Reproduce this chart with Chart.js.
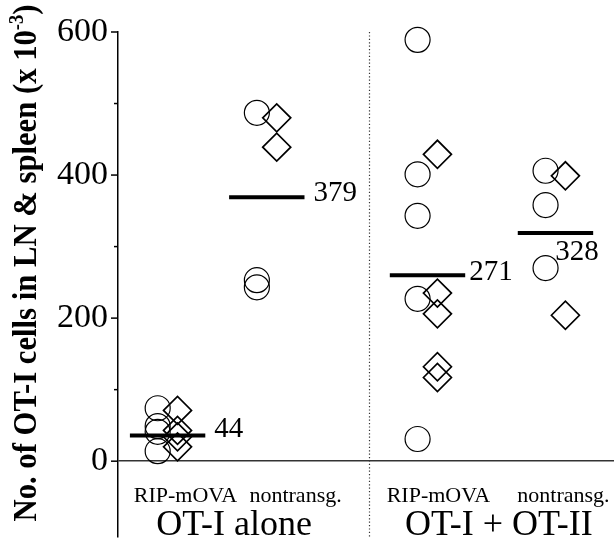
<!DOCTYPE html>
<html>
<head>
<meta charset="utf-8">
<script src="https://cdn.jsdelivr.net/npm/chart.js@4/dist/chart.umd.min.js"></script>
<style>
  html, body { margin: 0; padding: 0; background: #fff; }
  #wrap { width: 614px; height: 543px; position: relative; }
</style>
</head>
<body>
<div id="wrap"><canvas id="c"></canvas></div>
<script>
// ---- data ----
const groupNames = ['OT-I alone', 'OT-I + OT-II'];
const subgroupNames = ['RIP-mOVA', 'nontransg.', 'RIP-mOVA', 'nontransg.'];
const circleValues0 = [74, 49, 41, 14];            // OT-I alone, RIP-mOVA
const diamondValues0 = [71, 43, 34, 20];
const circleValues1 = [487, 253, 243];             // OT-I alone, nontransg.
const diamondValues1 = [480, 439];
const circleValues2 = [589, 401, 343, 227, 31];    // OT-I + OT-II, RIP-mOVA
const diamondValues2 = [429, 235, 206, 132, 117];
const circleValues3 = [406, 358, 270];             // OT-I + OT-II, nontransg.
const diamondValues3 = [399, 204];
const meanLabels = ['44', '379', '271', '328'];
const meanLineValues = [36, 369, 260, 319];
const yTickValues = [0, 100, 200, 300, 400, 500, 600];
const yLabelValues = [0, 200, 400, 600];

// ---- layout (x positions in axis units) ----
const groupX = [0.5, 1.5, 3.12, 4.41];
const circleOffset = -0.1, diamondOffset = 0.1, meanHalf = 0.38;
const separatorX = 2.53;
const subLabelX = [0.68, 1.79, 3.23, 4.49];
const groupLabelX = [1.17, 3.84];
const meanLabelOffsets = [[9, -6], [9, -4], [4, -3], [-38, 19]];

const circleSets = [circleValues0, circleValues1, circleValues2, circleValues3];
const diamondSets = [diamondValues0, diamondValues1, diamondValues2, diamondValues3];

const datasets = [];
circleSets.forEach((vals, i) => {
  datasets.push({
    data: vals.map(v => ({ x: groupX[i] + circleOffset, y: v })),
    pointStyle: 'circle', pointRadius: 12.5, borderColor: '#000',
    backgroundColor: 'rgba(0,0,0,0)', borderWidth: 1.2, showLine: false, clip: false
  });
});
diamondSets.forEach((vals, i) => {
  datasets.push({
    data: vals.map(v => ({ x: groupX[i] + diamondOffset, y: v })),
    pointStyle: 'rectRot', pointRadius: 14, borderColor: '#000',
    backgroundColor: 'rgba(0,0,0,0)', borderWidth: 1.7, showLine: false, clip: false
  });
});
meanLineValues.forEach((v, i) => {
  datasets.push({
    data: [{ x: groupX[i] - meanHalf, y: v }, { x: groupX[i] + meanHalf, y: v }],
    showLine: true, pointRadius: 0, borderColor: '#000', borderWidth: 4, clip: false
  });
});

const overlay = {
  id: 'overlay',
  beforeDatasetsDraw(chart) {
    const { ctx, scales: { x }, chartArea } = chart;
    ctx.save();
    ctx.strokeStyle = '#333';
    ctx.lineWidth = 1.2;
    ctx.setLineDash([1.2, 2.2]);
    const sx = Math.round(x.getPixelForValue(separatorX)) + 0.5;
    ctx.beginPath();
    ctx.moveTo(sx, chartArea.top);
    ctx.lineTo(sx, chartArea.bottom);
    ctx.stroke();
    ctx.restore();
  },
  afterDraw(chart) {
    const { ctx, scales: { x, y }, chartArea } = chart;
    ctx.save();
    ctx.strokeStyle = '#000';
    ctx.lineWidth = 1.5;
    yTickValues.forEach(v => {
      const py = y.getPixelForValue(v);
      const len = yLabelValues.includes(v) ? 7 : 4;
      ctx.beginPath();
      ctx.moveTo(chartArea.left - len, py);
      ctx.lineTo(chartArea.left, py);
      ctx.stroke();
    });
    ctx.fillStyle = '#000';
    ctx.font = '29px "Liberation Serif", serif';
    ctx.textAlign = 'left';
    ctx.textBaseline = 'middle';
    meanLabels.forEach((t, i) => {
      const px = x.getPixelForValue(groupX[i] + meanHalf) + meanLabelOffsets[i][0];
      const py = y.getPixelForValue(meanLineValues[i]) + meanLabelOffsets[i][1];
      ctx.fillText(t, px, py);
    });
    ctx.textAlign = 'center';
    ctx.textBaseline = 'alphabetic';
    ctx.font = '22px "Liberation Serif", serif';
    subgroupNames.forEach((t, i) => ctx.fillText(t, x.getPixelForValue(subLabelX[i]), 502));
    ctx.font = '36px "Liberation Serif", serif';
    groupNames.forEach((t, i) => ctx.fillText(t, x.getPixelForValue(groupLabelX[i]), 535));
    // rotated y title with superscript, fitted to the reference length
    ctx.translate(36, 263);
    ctx.rotate(-Math.PI / 2);
    const main = 'No. of OT-I cells in LN & spleen (x 10';
    const sup = '-3';
    const close = ')';
    const fMain = 'bold 33px "Liberation Serif", serif';
    const fSup = 'bold 20px "Liberation Serif", serif';
    ctx.font = fMain;
    const wMain = ctx.measureText(main).width;
    const wClose = ctx.measureText(close).width;
    ctx.font = fSup;
    const wSup = ctx.measureText(sup).width;
    const total = wMain + wSup + wClose;
    const targetLen = 517;
    ctx.scale(targetLen / total, 1);
    let cx = -total / 2;
    ctx.textAlign = 'left';
    ctx.font = fMain;
    ctx.fillText(main, cx, 0); cx += wMain;
    ctx.font = fSup;
    ctx.fillText(sup, cx, -13); cx += wSup;
    ctx.font = fMain;
    ctx.fillText(close, cx, 0);
    ctx.restore();
  }
};

new Chart(document.getElementById('c'), {
  type: 'scatter',
  data: { datasets },
  options: {
    responsive: true,
    maintainAspectRatio: false,
    animation: false,
    events: [],
    layout: { autoPadding: false, padding: { top: 32, bottom: 6, left: 0, right: 0 } },
    plugins: { legend: { display: false }, tooltip: { enabled: false } },
    scales: {
      x: { type: 'linear', display: false, min: 0, max: 5 },
      y: {
        type: 'linear', min: -106, max: 600,
        afterBuildTicks: s => { s.ticks = yTickValues.map(v => ({ value: v })); },
        afterFit: s => { s.width = 118; s.paddingTop = 0; s.paddingBottom = 0; },
        ticks: {
          padding: 10,
          color: '#000',
          font: { family: '"Liberation Serif", serif', size: 34 },
          callback: v => yLabelValues.includes(v) ? String(v) : ''
        },
        grid: {
          drawTicks: false,
          color: c => (c.tick && c.tick.value === 0) ? '#333' : 'rgba(0,0,0,0)',
          lineWidth: 1.6
        },
        border: { display: true, color: '#000', width: 1.5 }
      }
    }
  },
  plugins: [overlay]
});
</script>
</body>
</html>
